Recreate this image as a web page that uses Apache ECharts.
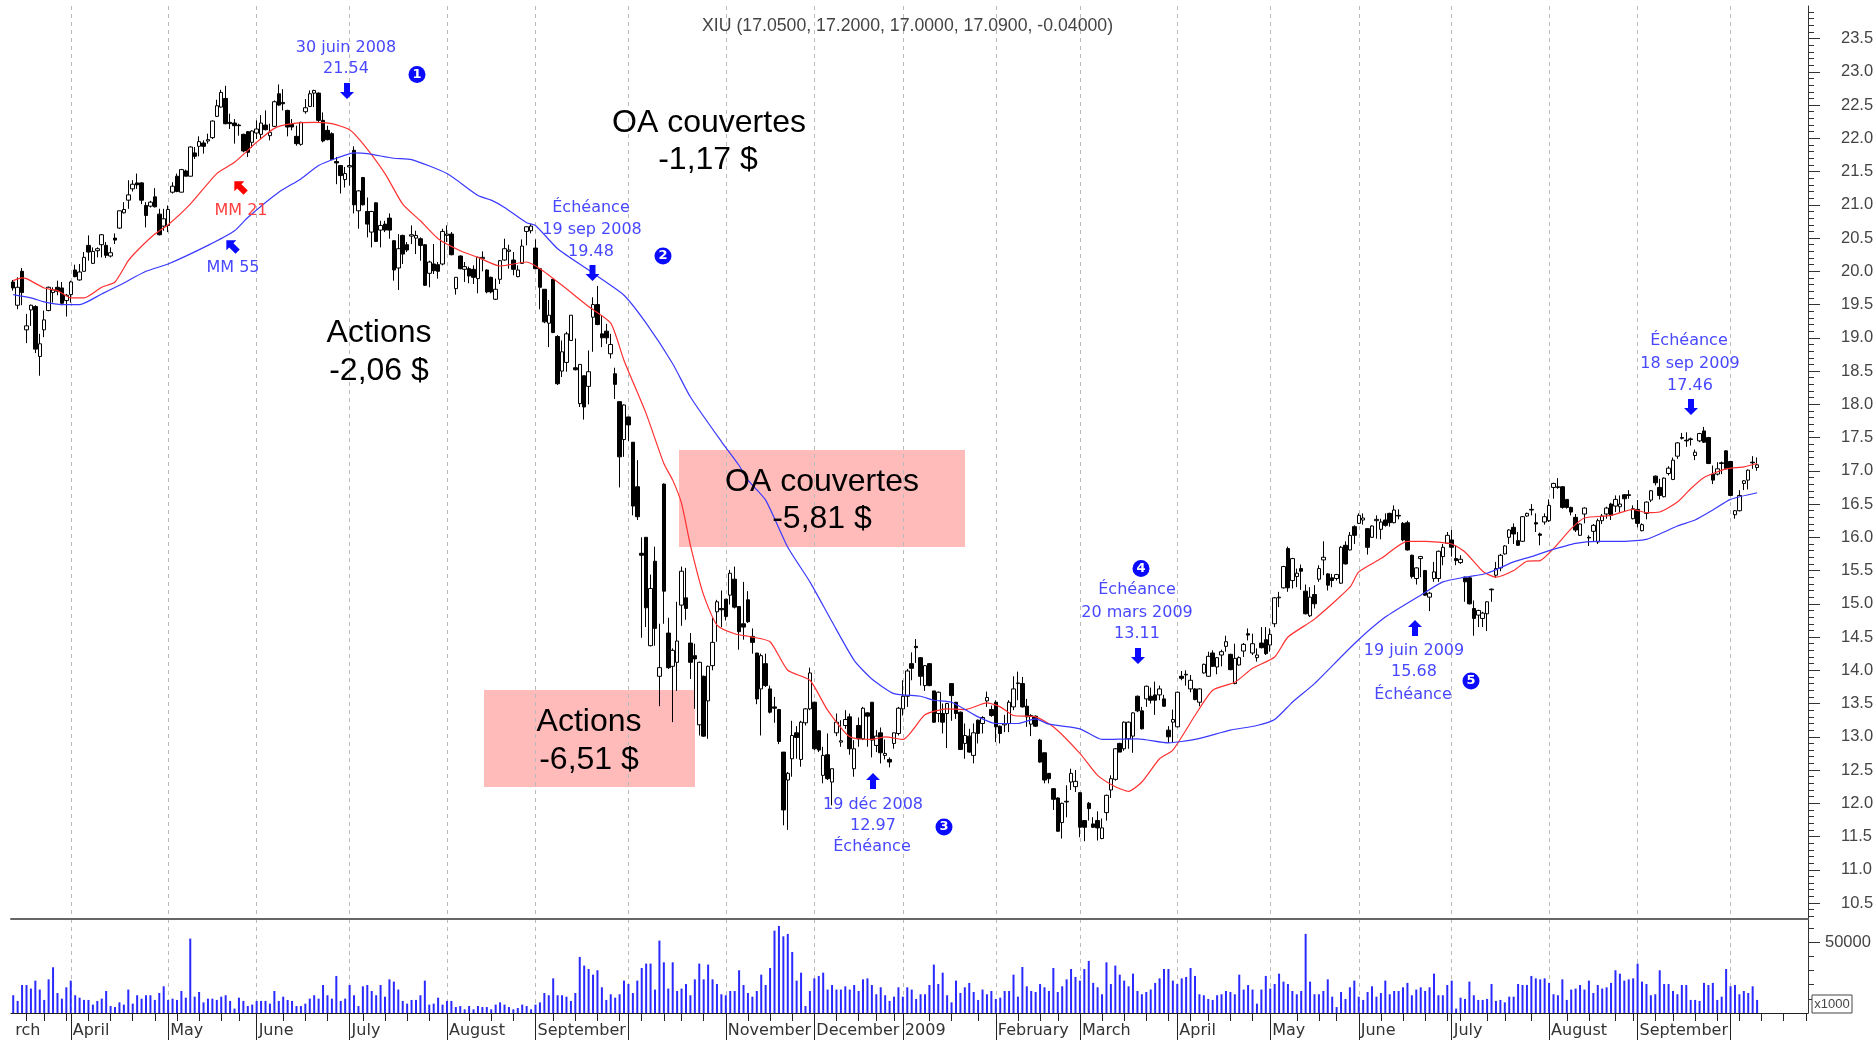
<!DOCTYPE html>
<html>
<head>
<meta charset="utf-8">
<title>XIU</title>
<script src="https://cdn.jsdelivr.net/npm/echarts@6/dist/echarts.min.js"></script>
<style>
	html, body { margin: 0; padding: 0; background: #fff; overflow: hidden; }
	#chart { width: 1873px; height: 1043px; }
</style>
</head>
<body>
<div id="chart"></div>
<script>
// open, close, low, high
var candles = [
[19.84,19.75,19.71,19.87],[19.49,19.76,19.43,19.91],[20.0,19.68,19.49,20.05],[19.12,19.18,18.92,19.36],[19.42,19.49,19.18,19.5],
[19.47,18.83,18.77,19.49],[18.72,18.91,18.43,19.06],[19.12,19.27,19.01,19.41],[19.41,19.76,19.40,19.77],[19.68,19.72,19.53,19.76],
[19.76,19.70,19.64,19.86],[19.75,19.52,19.49,19.84],[19.56,19.64,19.32,19.66],[19.65,19.84,19.53,19.86],[20.02,19.92,19.91,20.10],
[19.87,19.99,19.86,20.11],[20.0,20.21,20.0,20.29],[20.39,20.29,20.16,20.54],[20.12,20.30,20.11,20.36],[20.31,20.34,20.21,20.36],
[20.40,20.55,20.21,20.56],[20.39,20.24,20.20,20.44],[20.23,20.28,20.21,20.36],[20.50,20.47,20.41,20.57],[20.65,20.91,20.64,20.91],
[20.88,20.93,20.87,21.04],[21.07,21.15,20.94,21.37],[21.24,21.31,21.2,21.37],[21.33,21.30,21.24,21.47],[21.33,21.07,21.01,21.34],
[20.99,20.84,20.66,21.04],[20.98,21.04,20.96,21.06],[21.12,20.97,20.96,21.25],[20.86,20.55,20.54,20.94],[20.68,20.79,20.61,20.94],
[20.69,20.93,20.59,20.99],[21.19,21.28,21.17,21.34],[21.43,21.2,21.19,21.47],[21.19,21.53,21.19,21.54],[21.51,21.43,21.43,21.53],
[21.43,21.87,21.43,21.88],[21.78,21.73,21.69,21.87],[21.88,21.95,21.73,22.03],[21.93,21.88,21.77,21.97],[21.96,21.98,21.92,22.07],
[22.01,22.26,21.99,22.27],[22.33,22.49,22.32,22.58],[22.47,22.69,22.46,22.73],[22.60,22.22,22.21,22.79],[22.24,22.22,22.14,22.37],
[22.23,22.19,21.92,22.29],[22.20,22.19,22.04,22.22],[22.06,21.81,21.79,22.07],[22.10,21.79,21.72,22.11],[21.94,22.11,21.86,22.12],
[22.08,22.14,21.99,22.27],[22.06,22.23,21.99,22.35],[22.2,22.13,22.12,22.42],[22.04,22.09,21.97,22.22],[22.18,22.55,22.17,22.57],
[22.67,22.50,22.49,22.81],[22.54,22.52,22.42,22.74],[22.42,22.17,22.03,22.43],[22.21,22.17,22.12,22.29],[22.03,21.92,21.89,22.19],
[21.91,22.24,21.89,22.25],[22.40,22.46,22.37,22.59],[22.48,22.67,22.47,22.72],[22.68,22.72,22.47,22.73],[22.68,22.27,22.24,22.69],
[22.27,21.96,21.94,22.39],[22.12,21.98,21.97,22.19],[22.07,21.68,21.67,22.09],[21.65,21.63,21.31,21.72],[21.59,21.44,21.17,21.6],
[21.38,21.47,21.26,21.57],[21.57,21.59,21.29,21.72],[21.82,21.0,20.87,21.88],[20.91,21.21,20.64,21.22],[21.41,21.0,20.99,21.42],
[20.9,20.71,20.51,21.11],[20.59,20.90,20.36,20.91],[21.03,20.45,20.44,21.04],[20.62,20.69,20.36,20.76],[20.71,20.62,20.59,20.76],
[20.80,20.62,20.49,20.87],[20.46,20.02,19.86,20.47],[20.05,20.34,19.72,20.56],[20.54,20.26,20.11,20.55],[20.40,20.32,20.29,20.44],
[20.53,20.55,20.41,20.69],[20.50,20.54,20.26,20.61],[20.49,20.39,20.16,20.51],[20.40,19.79,19.78,20.41],[19.97,20.14,19.76,20.16],
[20.11,20.01,19.96,20.41],[20.10,20.0,19.89,20.14],[20.11,20.60,20.09,20.64],[20.54,20.56,20.44,20.69],[20.56,20.25,20.24,20.59],
[19.74,19.91,19.65,19.91],[20.23,20.04,20.03,20.24],[20.03,20.07,19.84,20.14],[20.04,19.93,19.82,20.07],[20.03,19.91,19.81,20.09],
[19.89,20.21,19.67,20.22],[20.19,20.21,20.0,20.3],[20.02,19.69,19.67,20.03],[19.91,19.69,19.67,19.92],[19.58,19.73,19.57,19.89],
[19.88,20.16,19.81,20.17],[20.17,20.34,20.16,20.49],[20.30,20.32,20.04,20.40],[20.17,20.03,19.94,20.29],[19.92,20.02,19.91,20.09],
[20.12,20.38,20.11,20.48],[20.60,20.67,20.39,20.68],[20.61,20.68,20.57,20.71],[20.35,20.04,20.03,20.48],[20.04,19.76,19.43,20.04],
[19.73,19.24,19.22,19.73],[19.22,19.34,18.86,19.57],[19.88,19.08,19.07,19.88],[19.02,18.31,18.29,19.04],[18.50,18.79,18.41,18.96],
[18.63,19.06,18.49,19.09],[18.96,19.34,18.96,19.34],[18.55,18.52,18.51,18.99],[18.01,18.60,17.96,18.60],[18.43,17.96,17.77,18.43],
[18.27,18.49,18.0,18.81],[19.31,19.50,18.79,19.61],[19.50,19.20,19.19,19.78],[19.06,19.0,18.86,19.34],[19.10,19.0,18.91,19.21],
[18.76,18.90,18.69,19.06],[18.46,18.30,18.08,18.55],[18.04,17.21,16.75,18.04],[17.47,17.99,17.21,18.0],[17.81,17.69,17.45,17.81],
[17.43,16.47,16.33,17.43],[16.76,16.31,16.26,17.16],[15.76,15.73,14.49,16.0],[16.0,14.94,14.65,16.0],[14.37,15.23,14.36,15.44],
[15.64,14.63,14.37,15.86],[13.91,14.04,13.46,14.70],[16.80,15.19,14.70,16.81],[14.56,14.04,14.02,14.79],[14.06,14.30,13.22,14.33],
[14.12,14.44,13.69,15.03],[14.98,15.49,14.67,15.56],[15.09,14.93,14.76,15.54],[14.41,14.12,13.87,14.56],[14.22,14.17,13.42,14.40],
[13.18,14.12,13.02,14.13],[13.91,13.01,13.0,13.92],[13.54,14.06,12.97,14.07],[14.07,14.42,14.0,14.79],[14.88,15.03,14.43,15.06],
[14.93,14.91,14.65,15.20],[15.07,14.81,14.75,15.07],[15.13,15.46,14.99,15.51],[15.37,14.95,14.93,15.56],[14.96,14.58,14.31,14.96],
[14.70,14.65,14.46,15.33],[15.06,14.73,14.71,15.19],[14.51,14.42,14.25,14.63],[14.26,13.57,13.49,14.26],[13.72,14.22,13.02,14.25],
[14.10,13.77,13.75,14.25],[13.72,13.37,13.35,13.77],[13.45,13.43,13.21,13.60],[13.41,12.93,12.89,13.42],[12.77,11.90,11.67,12.77],
[12.35,12.45,11.60,12.47],[12.67,13.02,12.40,13.24],[13.06,12.99,12.67,13.16],[12.66,13.22,12.55,13.24],[13.21,13.42,13.17,13.43],
[13.42,13.96,13.40,14.04],[13.52,12.82,12.80,13.53],[13.09,12.80,12.77,13.10],[12.42,12.72,12.30,12.85],[12.73,12.37,12.35,13.05],
[12.32,12.52,11.97,12.52],[13.06,13.22,13.01,13.35],[12.92,12.94,12.85,13.25],[13.17,13.26,13.12,13.40],[13.30,12.82,12.73,13.35],
[12.52,12.82,12.40,12.95],[13.17,12.97,12.85,13.29],[12.97,13.43,12.95,13.45],[13.36,13.31,12.85,13.37],[13.52,12.95,12.69,13.52],
[12.87,13.01,12.77,13.10],[13.06,12.76,12.60,13.14],[12.72,12.75,12.66,12.96],[12.66,12.62,12.54,12.69],[12.90,13.06,12.82,13.06],
[13.05,13.43,13.02,13.45],[13.42,13.61,13.32,13.85],[13.61,13.99,13.45,14.02],[14.10,14.03,13.85,14.27],[14.36,14.34,14.11,14.47],
[14.19,13.91,13.77,14.20],[13.77,14.07,13.69,14.08],[14.10,13.77,13.76,14.11],[13.69,13.22,13.21,13.69],[13.35,13.67,13.22,13.68],
[13.35,13.22,13.05,13.50],[13.35,13.50,12.83,13.51],[13.80,13.62,13.24,13.80],[13.52,13.35,13.27,13.52],[13.37,12.81,12.80,13.38],
[12.90,13.02,12.67,13.20],[13.01,12.77,12.76,13.12],[12.72,13.06,12.60,13.20],[13.25,13.05,12.90,13.26],[13.20,13.29,13.05,13.31],
[13.54,13.59,13.45,13.68],[13.41,13.32,13.30,13.47],[13.52,13.15,12.92,13.55],[13.16,13.05,12.90,13.17],[13.18,13.20,13.07,13.33],[13.20,13.52,13.07,13.55],
[13.45,13.72,13.40,13.91],[13.80,13.81,13.55,13.98],[13.80,13.45,13.44,13.90],[13.46,13.30,13.15,13.57],[13.19,13.32,13.01,13.34],
[13.31,13.16,13.15,13.32],[12.95,12.62,12.61,12.97],[12.76,12.35,12.30,12.76],[12.45,12.37,12.30,12.45],[12.22,12.06,11.90,12.23],
[12.08,11.58,11.57,12.09],[11.71,12.0,11.47,12.01],[12.02,12.03,11.79,12.27],[12.32,12.45,12.20,12.52],[12.25,12.33,12.17,12.50],
[12.16,11.64,11.49,12.17],[11.74,11.64,11.43,11.74],[12.0,11.92,11.74,12.02],[11.69,11.64,11.63,11.79],[11.74,11.63,11.44,11.88],
[11.47,11.63,11.46,11.77],[11.86,12.12,11.74,12.13],[12.20,12.37,12.08,12.42],[12.36,12.82,12.34,12.83],[12.90,12.77,12.77,12.91],
[12.82,13.22,12.79,13.23],[12.97,13.22,12.82,13.23],[13.01,13.36,12.76,13.37],[13.61,13.39,13.37,13.62],[13.39,13.12,13.11,13.45],
[13.57,13.76,13.45,13.77],[13.61,13.55,13.50,13.74],[13.63,13.55,13.33,13.83],[13.63,13.72,13.55,13.77],[13.57,13.46,13.45,13.63],
[13.10,13.0,12.91,13.16],[13.22,13.26,12.92,13.41],[13.15,13.67,13.14,13.68],[13.91,13.88,13.85,13.99],[13.93,13.94,13.77,14.0],
[13.72,13.85,13.67,13.93],[13.72,13.56,13.55,13.73],[13.52,13.72,13.46,13.73],[13.96,14.09,13.95,14.10],[13.91,14.21,13.90,14.28],
[14.26,14.06,14.05,14.30],[14.05,14.19,13.94,14.20],[14.23,14.28,14.06,14.31],[14.36,14.43,14.28,14.52],[14.24,14.01,14.0,14.25],
[13.80,14.18,13.79,14.40],[14.08,14.19,14.07,14.21],[14.29,14.39,14.20,14.41],[14.55,14.53,14.45,14.63],[14.26,14.40,14.23,14.55],
[14.19,14.23,14.13,14.33],[14.41,14.34,14.33,14.65],[14.46,14.25,14.23,14.65],[14.38,14.54,14.28,14.63],[14.70,15.09,14.65,15.10],
[15.09,15.10,14.95,15.18],[15.24,15.56,15.23,15.57],[15.83,15.24,15.18,15.86],[15.35,15.68,15.23,15.69],[15.41,15.46,15.25,15.53],
[15.53,15.49,15.21,15.59],[15.19,14.85,14.84,15.29],[14.82,15.10,14.80,15.25],[15.14,15.0,14.93,15.28],[15.37,15.53,15.33,15.58],
[15.66,15.70,15.43,15.94],[15.45,15.28,15.20,15.46],[15.39,15.35,15.25,15.45],[15.38,15.44,15.35,15.45],[15.31,15.85,15.30,15.87],
[15.88,15.60,15.59,15.94],[15.81,16.03,15.80,16.08],[16.16,16.03,15.90,16.18],[16.21,16.33,16.20,16.36],[16.26,16.29,16.19,16.36],
[16.13,15.85,15.74,16.14],[16.0,16.17,15.99,16.18],[16.25,16.27,15.98,16.33],[16.12,16.23,15.97,16.28],[16.26,16.18,16.16,16.36],
[16.36,16.22,16.16,16.37],[16.22,16.41,16.21,16.48],[16.33,16.32,16.27,16.42],[16.21,15.96,15.94,16.23],[16.22,15.81,15.80,16.25],
[15.73,15.41,15.38,15.74],[15.38,15.54,15.29,15.55],[15.68,15.71,15.40,15.72],[15.50,15.13,15.12,15.51],[15.10,15.16,14.89,15.18],
[15.38,15.48,15.33,15.63],[15.38,15.79,15.33,15.80],[15.71,15.85,15.58,15.90],[15.91,16.03,15.90,16.08],[15.96,15.85,15.71,16.11],
[15.68,15.65,15.58,15.88],[15.62,15.67,15.60,15.73],[15.40,15.33,15.03,15.41],[15.39,15.0,14.99,15.40],[14.93,14.78,14.52,15.05],
[14.83,14.90,14.65,14.91],[14.78,14.86,14.65,14.88],[14.85,15.03,14.59,15.04],[15.22,15.21,15.03,15.23],[15.43,15.53,15.39,15.63],
[15.54,15.73,15.49,15.75],[15.75,15.87,15.74,15.88],[16.0,16.11,15.90,16.12],[16.15,16.05,15.90,16.21],[15.95,15.88,15.87,16.08],
[15.94,16.31,15.93,16.32],[16.32,16.36,16.31,16.37],[16.42,16.41,16.33,16.50],[16.22,16.2,16.08,16.36],[16.05,16.03,15.88,16.07],
[16.23,16.31,16.19,16.36],[16.25,16.48,16.23,16.57],[16.75,16.81,16.58,16.82],[16.76,16.75,16.73,16.89],[16.76,16.45,16.43,16.77],
[16.57,16.45,16.43,16.57],[16.45,16.38,16.33,16.46],[16.30,16.11,16.08,16.35],[16.03,16.20,16.02,16.21],[16.35,16.44,16.21,16.45],
[16.0,15.99,15.87,16.03],[16.09,16.18,15.93,16.20],[15.93,16.25,15.90,16.28],[16.25,16.32,16.20,16.35],
[16.35,16.44,16.28,16.46],[16.50,16.33,16.26,16.52],[16.47,16.57,16.38,16.63],[16.46,16.50,16.37,16.63],[16.64,16.58,16.38,16.65],
[16.64,16.63,16.58,16.71],[16.28,16.43,16.27,16.48],[16.42,16.21,16.15,16.56],[16.10,16.19,16.09,16.21],[16.36,16.53,16.27,16.54],
[16.56,16.70,16.53,16.71],[16.92,16.82,16.78,16.93],[16.75,16.63,16.57,16.88],[16.61,16.89,16.60,16.90],[16.96,17.04,16.93,17.07],
[16.87,17.16,16.86,17.20],[17.22,17.42,17.18,17.43],[17.50,17.49,17.47,17.57],[17.46,17.45,17.36,17.58],[17.48,17.47,17.38,17.50],
[17.23,17.28,17.16,17.32],[17.45,17.56,17.43,17.57],[17.60,17.43,17.42,17.66],[17.50,17.11,17.10,17.51],[16.95,16.86,16.80,17.08],
[16.95,17.03,16.93,17.13],[17.12,17.11,16.95,17.14],[17.30,17.03,17.02,17.31],[17.14,16.63,16.62,17.15],[16.34,16.40,16.28,16.41],
[16.40,16.63,16.39,16.71],[16.81,16.85,16.71,16.86],[16.86,17.01,16.72,17.02],[17.13,17.12,17.03,17.22],[17.05,17.09,17.0,17.20]
];

var volumes = [
12500,8500,19700,19700,17200,22800,16500,9200,23700,32200,14100,10100,18100,22800,
12500,10800,9200,9200,5900,8500,10100,15500,4900,4200,7500,5900,16500,6600,12500,10100,12500,12500,9200,14100,18800,9200,
10100,9200,15500,10800,52400,11500,14800,7500,10100,10100,9200,11500,12500,8500,3100,10800,8500,4900,5900,8500,
8500,8500,6600,15500,8500,11500,9200,8500,4900,4900,6600,10100,12500,10100,19700,12500,10100,26100,8500,10100,19700,
12500,4900,18800,19700,15500,12500,19700,11500,23700,22100,16500,8500,6600,9200,9200,12500,22800,5900,6600,10800,5900,8500,
8500,4200,4900,2600,4900,2600,4900,4200,4200,2600,5900,7500,5900,4200,2600,3500,5900,4900,2600,5900,
7500,14100,12500,24400,12500,12500,11500,8500,14100,39500,33400,31000,27000,30100,18100,9200,13200,10800,13200,22800,20400,
14100,22800,31700,34800,34800,16500,51000,35700,17200,35700,15500,17200,20400,12500,23700,34800,23700,34100,23700,20400,13200,12500,
15500,15500,30100,19700,14100,11500,15500,27000,19700,31700,58000,61300,54000,55700,43000,22800,28400,4900,15500,24400,
26100,28400,16500,19700,16500,16500,18800,16500,19700,15500,23700,24400,19700,13200,18100,12500,8500,11500,18100,11500,
18100,16500,9900,13200,13200,19700,34100,20400,28400,12500,7500,22800,14100,18100,21200,14800,9200,16500,13200,15500,9900,
10800,15500,15500,27000,11500,32400,18800,15500,14800,20400,18100,15500,31700,14800,18800,23700,31000,25400,22800,
31000,36700,21200,18100,13200,35700,20400,33400,27000,22800,18800,27700,15500,13200,14800,16500,21200,24400,31000,31000,22800,20400,
24400,25400,31700,26100,13200,12500,9900,9200,12500,13200,15500,14800,13200,27000,16500,19700,16500,6600,16500,26100,
17200,20400,27700,22100,20400,15500,13200,15500,55700,22100,13200,13200,15500,23700,11500,4200,14800,9900,18100,22800,11500,
9200,14800,18800,11500,14100,22800,13200,15500,15500,18100,21200,12500,16500,18100,15500,18100,27700,12500,12500,19700,22800,
3100,10800,9900,22100,12500,9200,9200,9900,20400,8500,9200,7500,11500,11500,20400,19700,19700,26100,24400,23700,24400,21200,
13200,12500,23700,9200,16500,17200,19700,16500,22800,14100,19700,17200,18100,21200,30100,27700,22800,23700,24400,34800,
22100,20400,12500,13200,30100,20400,20400,15500,13200,19700,19700,9200,9200,8500,21200,19700,21200,9200,11500,31000,18800,19700,13200,15500,14100,18800,9200
];

// index on the category axis
var ma21Points = [[0,19.86],[2,19.9],[3,19.89],[7,19.75],[10,19.71],[13,19.6],[16,19.6],[20,19.76],[23,19.84],[26,20.16],[28,20.31],[32,20.56],[35,20.7],[40,21.01],[46,21.47],[50,21.64],[55,21.94],[59,22.15],[63,22.22],[68,22.24],[72,22.22],[76,22.13],[79,21.92],[84,21.47],[88,21.01],[92,20.76],[96,20.49],[101,20.31],[105,20.21],[110,20.08],[116,20.14],[119,20.04],[124,19.79],[130,19.47],[135,19.22],[138,18.66],[143,17.86],[147,17.11],[149,16.86],[151,16.51],[153,15.88],[156,15.13],[159,14.68],[163,14.55],[167,14.5],[171,14.43],[175,14.0],[180,13.85],[184,13.4],[189,13.0],[194,12.96],[197,13.0],[201,12.96],[206,13.33],[211,13.42],[215,13.41],[220,13.51],[223,13.45],[226,13.32],[231,13.3],[235,13.15],[241,12.75],[245,12.42],[249,12.25],[252,12.18],[255,12.32],[259,12.67],[262,12.8],[267,13.32],[271,13.7],[276,13.82],[280,14.03],[285,14.2],[288,14.5],[294,14.77],[302,15.25],[304,15.48],[309,15.68],[315,15.94],[319,15.94],[325,15.9],[328,15.78],[332,15.49],[335,15.4],[339,15.5],[342,15.64],[345,15.65],[348,15.83],[352,16.13],[355,16.29],[361,16.33],[366,16.42],[369,16.37],[372,16.38],[376,16.53],[379,16.73],[382,16.9],[387,17.03],[391,17.06],[394,17.11]];
var ma55Points = [[0,19.65],[4,19.6],[7,19.54],[11,19.5],[15,19.5],[20,19.66],[24,19.79],[30,20.0],[35,20.11],[44,20.39],[50,20.61],[53,20.81],[60,21.19],[65,21.39],[69,21.59],[73,21.7],[77,21.78],[80,21.77],[86,21.7],[90,21.68],[98,21.47],[105,21.14],[108,21.07],[111,20.96],[116,20.73],[118,20.69],[123,20.34],[130,20.02],[133,19.88],[138,19.64],[143,19.22],[149,18.61],[153,18.11],[160,17.44],[164,17.08],[166,16.86],[170,16.56],[175,15.85],[180,15.33],[185,14.73],[190,14.15],[194,13.87],[199,13.65],[205,13.61],[208,13.55],[212,13.52],[218,13.3],[222,13.2],[227,13.2],[231,13.27],[234,13.19],[241,13.12],[246,12.96],[254,12.97],[261,12.91],[267,12.96],[275,13.1],[281,13.17],[285,13.26],[289,13.52],[294,13.8],[303,14.4],[310,14.8],[318,15.13],[323,15.33],[328,15.4],[333,15.46],[339,15.63],[343,15.71],[347,15.8],[353,15.91],[358,15.94],[364,15.94],[369,15.97],[373,16.08],[376,16.17],[380,16.26],[384,16.41],[388,16.57],[394,16.67]];

// x axis: where each month starts and what it is called ('' = line without a label)
var monthStarts = [0,13,35,55,76,98,118,139,161,181,201,222,241,263,284,304,325,347,367,388];
var monthLabels = ['rch','April','May','June','July','August','September','','November','December','2009','February','March','April','May','June','July','August','September',''];
var weekTicks = [3,7,12,17,22,27,32,37,42,47,51,61,66,71,76,79,84,89,94,103,108,113,122,127,132,137,142,147,151,156,166,171,176,186,191,195,199,207,212,218,227,232,236,246,251,256,261,266,270,275,280,290,295,299,309,314,319,324,327,333,337,343,351,356,362,366,371,375,380,385,390,395,400,405];
var slotCount = 406;

var priceLabels = [10.5,11,11.5,12,12.5,13,13.5,14,14.5,15,15.5,16,16.5,17,17.5,18,18.5,19,19.5,20,20.5,21,21.5,22,22.5,23,23.5];
var priceMinor = [];
for (var p = 103; p <= 239; p++) {
	if (p % 5 != 0) priceMinor.push(p / 10);
}
var volumeLabels = [50000];
var volumeMinor = [10000,20000,30000,40000,60000];

var categories = [];
for (var i = 0; i < slotCount; i++) {
	var m = monthStarts.indexOf(i);
	categories.push(m >= 0 ? monthLabels[m] : '');
}

var BLUE = '#4848ff';
var RED = '#ff4040';
var LABEL_FONT = '16px "DejaVu Sans"';
var BIG_FONT = '32px "Liberation Sans"';

function txt(s, x, y, color, font) {
	return {
		type: 'text', x: x, y: y, z: 20,
		style: { text: s, fill: color || BLUE, font: font || LABEL_FONT, align: 'center', verticalAlign: 'middle' }
	};
}
function big(s, x, y) {
	return txt(s, x, y, '#000', BIG_FONT);
}
function arrow(x, y, rot, color) {
	return {
		type: 'polygon', x: x, y: y, rotation: rot, z: 20,
		shape: { points: [[-3,-8],[3,-8],[3,1],[7,1],[0,8],[-7,1],[-3,1]] },
		style: { fill: color || '#0a0aff' }
	};
}
function badge(n, x, y) {
	return {
		type: 'group', x: x, y: y, z: 20,
		children: [
			{ type: 'circle', shape: { cx: 0, cy: 0, r: 8.5 }, style: { fill: '#0a0aff' }, z: 20 },
			{ type: 'text', z: 21, style: { text: String(n), x: 0, y: 0, fill: '#fff', font: 'bold 13px "DejaVu Sans"', align: 'center', verticalAlign: 'middle' } }
		]
	};
}
function box(x, y, w, h) {
	return { type: 'rect', z: -1, shape: { x: x, y: y, width: w, height: h }, style: { fill: '#ffbaba' } };
}

var notes = [
	box(679, 450, 286, 97),
	box(484, 690, 211, 97),

	txt('30 juin 2008', 346, 48), txt('21.54', 346, 69), arrow(347, 91, 0), badge(1, 417, 74.5),
	big('OA couvertes', 709, 123), big('-1,17 $', 708, 160),
	big('Actions', 379, 333), big('-2,06 $', 379, 371),
	txt('MM 21', 241, 211, RED), arrow(240, 187, -Math.PI * 3 / 4, '#ff0000'),
	txt('MM 55', 233, 268), arrow(232, 246, -Math.PI * 3 / 4),
	txt('Échéance', 591, 208), txt('19 sep 2008', 592, 230), txt('19.48', 591, 252), arrow(592.5, 273, 0), badge(2, 663, 256),
	big('OA couvertes', 822, 482), big('-5,81 $', 822, 519),
	big('Actions', 589, 722), big('-6,51 $', 589, 760),
	arrow(873, 781, Math.PI), txt('19 déc 2008', 873, 805), txt('12.97', 873, 826), txt('Échéance', 872, 847), badge(3, 944, 827),
	badge(4, 1141, 568.5), txt('Échéance', 1137, 590), txt('20 mars 2009', 1137, 613), txt('13.11', 1137, 634), arrow(1138, 656, 0),
	arrow(1415, 628, Math.PI), txt('19 juin 2009', 1414, 651), txt('15.68', 1414, 672), txt('Échéance', 1413, 695), badge(5, 1471, 681),
	txt('Échéance', 1689, 341), txt('18 sep 2009', 1690, 364), txt('17.46', 1690, 386), arrow(1691, 407, 0),

	{
		type: 'rect', z: 20,
		shape: { x: 1812, y: 995, width: 40, height: 18 },
		style: { fill: '#fff', stroke: '#444', lineWidth: 1 }
	},
	txt('x1000', 1832, 1004, '#444', '13px "Liberation Sans"')
];

function onMonth(i) {
	return i > 0 && monthStarts.indexOf(i) >= 0;
}

var chart = echarts.init(document.getElementById('chart'), null, { renderer: 'canvas' });
chart.setOption({
	animation: false,
	backgroundColor: '#fff',
	title: {
		text: 'XIU (17.0500, 17.2000, 17.0000, 17.0900, -0.04000)',
		left: 697, top: 12,
		textStyle: { color: '#444', fontSize: 17.7, fontWeight: 'normal', fontFamily: 'Liberation Sans' }
	},
	grid: [
		{ left: 11, width: 1797, top: 6, height: 913, outerBoundsMode: 'none' },
		{ left: 11, width: 1797, top: 919, height: 94, outerBoundsMode: 'none' }
	],
	xAxis: [
		{
			type: 'category', gridIndex: 0, data: categories,
			axisLine: { lineStyle: { color: '#666', width: 2 } },
			axisTick: { show: false }, axisLabel: { show: false },
			splitLine: {
				show: true, interval: function(i) { return onMonth(i); }, alignWithLabel: true,
				lineStyle: { color: '#bbb', type: [4, 4], width: 1 }
			}
		},
		{
			type: 'category', gridIndex: 1, data: categories,
			axisLine: { lineStyle: { color: '#222', width: 1 } },
			axisTick: {
				show: true, length: 8, alignWithLabel: true,
				interval: function(i) { return weekTicks.indexOf(i) >= 0; },
				lineStyle: { color: '#222' }
			},
			axisLabel: { show: false }
		},
		{
			type: 'category', gridIndex: 1, data: categories, position: 'bottom',
			axisLine: { show: false },
			axisTick: {
				show: true, length: 27, alignWithLabel: true,
				interval: function(i) { return onMonth(i); },
				lineStyle: { color: '#222' }
			},
			axisLabel: {
				show: true, margin: 10, align: 'left', padding: [0, 0, 0, 2],
				interval: function(i) { return monthStarts.indexOf(i) >= 0; },
				color: '#333', fontSize: 16, fontFamily: 'DejaVu Sans'
			},
			splitLine: {
				show: true, interval: function(i) { return onMonth(i); }, alignWithLabel: true,
				lineStyle: { color: '#bbb', type: [4, 4], width: 1 }
			}
		}
	],
	yAxis: [
		{
			type: 'value', gridIndex: 0, position: 'right', min: 10.26, max: 23.99,
			axisLine: { show: true, lineStyle: { color: '#333' } },
			axisTick: { show: true, length: 12, customValues: priceLabels, lineStyle: { color: '#333' } },
			axisLabel: {
				show: true, customValues: priceLabels, margin: 33, align: 'left',
				formatter: function(v) { return v.toFixed(1); },
				color: '#444', fontSize: 16.5, fontFamily: 'Liberation Sans'
			},
			splitLine: { show: false }
		},
		{
			type: 'value', gridIndex: 0, position: 'right', min: 10.26, max: 23.99,
			axisLine: { show: false },
			axisTick: { show: true, length: 6, customValues: priceMinor, lineStyle: { color: '#333' } },
			axisLabel: { show: false },
			splitLine: { show: false }
		},
		{
			type: 'value', gridIndex: 1, position: 'right', min: 0, max: 66200,
			axisLine: { show: true, lineStyle: { color: '#333' } },
			axisTick: { show: true, length: 12, customValues: volumeLabels, lineStyle: { color: '#333' } },
			axisLabel: {
				show: true, customValues: volumeLabels, margin: 17, align: 'left',
				formatter: function(v) { return String(v); },
				color: '#444', fontSize: 16.5, fontFamily: 'Liberation Sans'
			},
			splitLine: { show: false }
		},
		{
			type: 'value', gridIndex: 1, position: 'right', min: 0, max: 66200,
			axisLine: { show: false },
			axisTick: { show: true, length: 6, customValues: volumeMinor, lineStyle: { color: '#333' } },
			axisLabel: { show: false },
			splitLine: { show: false }
		}
	],
	series: [
		{
			name: 'XIU', type: 'candlestick', xAxisIndex: 0, yAxisIndex: 0, z: 3,
			data: candles, barWidth: 4,
			itemStyle: { color: '#fff', color0: '#000', borderColor: '#000', borderColor0: '#000', borderWidth: 1 }
		},
		{
			name: 'MM 21', type: 'line', xAxisIndex: 0, yAxisIndex: 0, z: 4,
			data: ma21Points, showSymbol: false, smooth: 0.2, lineStyle: { color: '#ff3030', width: 1.2 }
		},
		{
			name: 'MM 55', type: 'line', xAxisIndex: 0, yAxisIndex: 0, z: 4,
			data: ma55Points, showSymbol: false, smooth: 0.2, lineStyle: { color: '#3a3aff', width: 1.2 }
		},
		{
			name: 'Volume', type: 'bar', xAxisIndex: 1, yAxisIndex: 2,
			data: volumes, barWidth: 2, itemStyle: { color: '#2a2aff' }
		}
	],
	graphic: notes
});
</script>
</body>
</html>
